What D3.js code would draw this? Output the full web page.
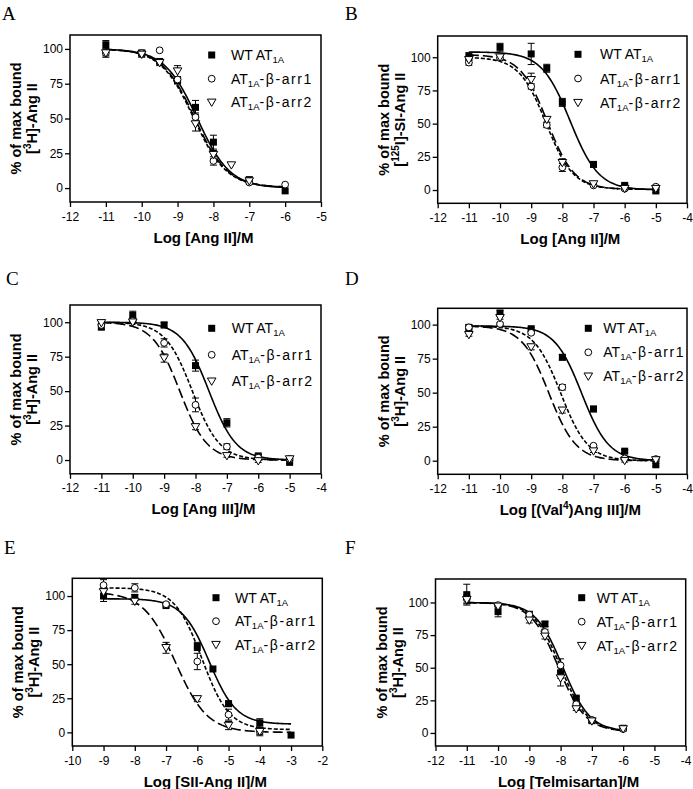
<!DOCTYPE html>
<html>
<head>
<meta charset="utf-8">
<script src="https://cdn.jsdelivr.net/npm/d3@7/dist/d3.min.js"></script>
<style>
  html, body { margin: 0; padding: 0; background: #fff; }
  svg { display: block; }
</style>
</head>
<body>
<svg id="chart" width="693" height="789"></svg>
<script>
// ---------------- DATA ----------------
const panelLetters = ["A", "B", "C", "D", "E", "F"];
const yTicks = [0, 25, 50, 75, 100];
const xTicksA = [-12, -11, -10, -9, -8, -7, -6, -5];
const xTicksB = [-12, -11, -10, -9, -8, -7, -6, -5, -4];
const xTicksC = [-12, -11, -10, -9, -8, -7, -6, -5, -4];
const xTicksD = [-12, -11, -10, -9, -8, -7, -6, -5, -4];
const xTicksE = [-10, -9, -8, -7, -6, -5, -4, -3, -2];
const xTicksF = [-12, -11, -10, -9, -8, -7, -6, -5, -4];

const legendPre = ["WT AT", "AT", "AT"];
const legendSub = ["1A", "1A", "1A"];
const legendPost = ["", "-\u03b2-arr1", "-\u03b2-arr2"];

const yTitleLine1 = "% of max bound";
const yTitleSup = ["3", "125", "3", "3", "3", "3"];
const yTitleRest = ["H]-Ang II", "I]-SI-Ang II", "H]-Ang II", "H]-Ang II", "H]-Ang II", "H]-Ang II"];
const xTitlePre = ["Log [Ang II]/M", "Log [Ang II]/M", "Log [Ang III]/M", "Log [(Val", "Log [SII-Ang II]/M", "Log [Telmisartan]/M"];
const xTitleSup = ["", "", "", "4", "", ""];
const xTitlePost = ["", "", "", ")Ang III]/M", "", ""];

// Panel A
const xA = [-11, -10, -9.5, -9, -8.5, -8, -7.5, -7, -6];
const wtA = [103, 97, 91, 77, 58, 33, null, 6, -2];
const arr1A = [97, 97, 99, 78, 51, 19.5, null, 4, 2.5];
const arr2A = [97, 96, 90, 84, 46, 24, 16.5, 5, null];
const wtErrA = [3, 2, 1, 2, 5, 5, 0, 2, 0];
const arr1ErrA = [2, 2, 0, 2, 3, 3, 0, 1, 0];
const arr2ErrA = [3, 2, 2, 4, 5, 3, 0, 1, 0];
const fitTopA = [100, 100, 100];
const fitBottomA = [0, 0.5, 0.5];
const fitIC50A = [-8.45, -8.55, -8.52];
const fitHillA = [0.95, 0.95, 0.95];

// Panel B
const xB = [-11, -10, -9, -8.5, -8, -7, -6, -5];
const wtB = [100.5, 107.5, 102.5, 91.7, 66, 19.3, 3.5, -0.7];
const arr1B = [96, 99.5, 78, 49, 17, 3.5, 1, 2.5];
const arr2B = [98, 100, 83, 53, 20.5, 4.5, 1, 1];
const wtErrB = [3, 3, 8, 3, 3, 2, 1, 1];
const arr1ErrB = [2, 2, 2, 2, 3, 1, 1, 1];
const arr2ErrB = [2, 2, 5, 2, 3, 1, 1, 1];
const fitTopB = [104, 100, 102];
const fitBottomB = [0, 0.5, 0.5];
const fitIC50B = [-7.75, -8.52, -8.48];
const fitHillB = [0.95, 1, 1];

// Panel C
const xC = [-11, -10, -9, -8, -7, -6, -5];
const wtC = [96.5, 105, 98, 68.5, 27, 3, -1.7];
const arr1C = [98, 101, 85, 40, 9.7, 1.7, 0.7];
const arr2C = [99.5, 100, 74, 24, 3, -0.7, 0.7];
const wtErrC = [2, 3, 2, 4, 3, 1, 1];
const arr1ErrC = [1, 2, 3, 5, 2, 1, 1];
const arr2ErrC = [1, 1, 3, 2, 1, 1, 1];
const fitTopC = [100, 100, 100];
const fitBottomC = [0, 0, 0];
const fitIC50C = [-7.57, -8.1, -8.5];
const fitHillC = [1, 1, 1];

// Panel D
const xD = [-11, -10, -9, -8, -7, -6, -5];
const wtD = [98, 108.5, 97, 76, 38, 7, -3];
const arr1D = [98, 100.5, 94, 54, 11, 1.7, 1.2];
const arr2D = [92.5, 105, 83.5, 37, 7, 0, 0.5];
const wtErrD = [2, 2, 1, 2, 2, 1, 1];
const arr1ErrD = [1, 1, 1, 2, 1, 1, 1];
const arr2ErrD = [1, 1, 2, 2, 1, 1, 1];
const fitTopD = [99, 99, 99];
const fitBottomD = [0, 0, 0];
const fitIC50D = [-7.38, -8.05, -8.43];
const fitHillD = [1, 1, 1];

// Panel E
const xE = [-9, -8, -7, -6, -5.5, -5, -4, -3];
const wtE = [100, 99, 93, 63, 46.5, 21, 7, -2];
const arr1E = [108, 106, 94, 52, null, 13, 0.5, null];
const arr2E = [103, 96, 62, 24.5, null, 5, 0.5, null];
const wtErrE = [4, 2, 1, 3, 0, 2, 3, 0];
const arr1ErrE = [4, 3, 1, 6, 0, 4, 3, 0];
const arr2ErrE = [3, 2, 4, 2, 0, 3, 2, 0];
const fitTopE = [98, 106, 103];
const fitBottomE = [6, 2, 0];
const fitIC50E = [-5.62, -5.85, -6.7];
const fitHillE = [1, 1, 0.85];

// Panel F
const xF = [-11, -10, -9, -8.5, -8, -7.5, -7, -6];
const wtF = [106, 93, 91, 83.5, 46, 26.7, 9.4, 3.6];
const arr1F = [102.6, 98, 90.6, 77.4, 51.8, 22, 10, 3];
const arr2F = [102, 97, 86.3, 74, 42, 18.3, 9, 3];
const wtErrF = [8, 4, 2, 2, 4, 1, 1, 1];
const arr1ErrF = [3, 1, 1, 2, 5, 1, 1, 1];
const arr2ErrF = [3, 1, 2, 2, 6, 1, 1, 1];
const fitTopF = [100, 100, 100];
const fitBottomF = [1, 1, 1];
const fitIC50F = [-7.93, -8.0, -8.07];
const fitHillF = [1, 1, 1];

// ---------------- LAYOUT ----------------
const layout = [
  { l: 70,    r: 321,   t: 35,    b: 202,   ymin: -10, ymax: 110,   leg: [211.7, 55,    23.7, 231],   let: [2, 20] },
  { l: 437.7, r: 687,   t: 36,    b: 203.3, ymin: -10, ymax: 116,   leg: [578,   54.3,  24.2, 600],   let: [345, 20] },
  { l: 70,    r: 321,   t: 305,   b: 473.8, ymin: -10, ymax: 112.5, leg: [211.7, 328.3, 26.5, 231.7], let: [6, 285] },
  { l: 437.7, r: 687,   t: 308.3, b: 474.3, ymin: -10, ymax: 112,   leg: [588.3, 328.3, 24,   603.3], let: [345, 285] },
  { l: 72.3,  r: 322.3, t: 578.3, b: 746,   ymin: -10, ymax: 113,   leg: [216,   597.7, 23.5, 235],   let: [4, 554] },
  { l: 435.5, r: 685.7, t: 579,   b: 746,   ymin: -10, ymax: 118,   leg: [581.7, 597.7, 24,   596.7], let: [345, 554] }
];

const panelData = [
  { xs: xA, ys: [wtA, arr1A, arr2A], es: [wtErrA, arr1ErrA, arr2ErrA], top: fitTopA, bot: fitBottomA, ic: fitIC50A, hill: fitHillA, ticks: xTicksA },
  { xs: xB, ys: [wtB, arr1B, arr2B], es: [wtErrB, arr1ErrB, arr2ErrB], top: fitTopB, bot: fitBottomB, ic: fitIC50B, hill: fitHillB, ticks: xTicksB },
  { xs: xC, ys: [wtC, arr1C, arr2C], es: [wtErrC, arr1ErrC, arr2ErrC], top: fitTopC, bot: fitBottomC, ic: fitIC50C, hill: fitHillC, ticks: xTicksC },
  { xs: xD, ys: [wtD, arr1D, arr2D], es: [wtErrD, arr1ErrD, arr2ErrD], top: fitTopD, bot: fitBottomD, ic: fitIC50D, hill: fitHillD, ticks: xTicksD },
  { xs: xE, ys: [wtE, arr1E, arr2E], es: [wtErrE, arr1ErrE, arr2ErrE], top: fitTopE, bot: fitBottomE, ic: fitIC50E, hill: fitHillE, ticks: xTicksE },
  { xs: xF, ys: [wtF, arr1F, arr2F], es: [wtErrF, arr1ErrF, arr2ErrF], top: fitTopF, bot: fitBottomF, ic: fitIC50F, hill: fitHillF, ticks: xTicksF }
];

const SANS = "'Liberation Sans', Arial, Helvetica, sans-serif";
const SERIF = "'Liberation Serif', 'Times New Roman', serif";
const dashes = [null, "4,2", "10,4"];

const svg = d3.select("#chart");

function drawMarker(g, kind, cx, cy) {
  if (kind === 0) {
    g.append("rect").attr("x", cx - 3.5).attr("y", cy - 3.5).attr("width", 7).attr("height", 7)
      .attr("fill", "#000");
  } else if (kind === 1) {
    g.append("circle").attr("cx", cx).attr("cy", cy).attr("r", 3.4)
      .attr("fill", "#fff").attr("stroke", "#000").attr("stroke-width", 1);
  } else {
    const p = d3.path();
    p.moveTo(cx - 4.3, cy - 3.3); p.lineTo(cx + 4.3, cy - 3.3); p.lineTo(cx, cy + 4); p.closePath();
    g.append("path").attr("d", p.toString())
      .attr("fill", "#fff").attr("stroke", "#000").attr("stroke-width", 1);
  }
}

panelData.forEach((P, i) => {
  const L = layout[i];
  const g = svg.append("g");
  const x = d3.scaleLinear().domain([P.ticks[0], P.ticks[P.ticks.length - 1]]).range([L.l, L.r]);
  const y = d3.scaleLinear().domain([L.ymin, L.ymax]).range([L.b, L.t]);

  // axes
  const ya = g.append("g").attr("transform", `translate(${L.l},0)`)
    .call(d3.axisLeft(y).tickValues(yTicks).tickSize(5).tickPadding(2).tickSizeOuter(0).tickFormat(d => String(d)));
  const xa = g.append("g").attr("transform", `translate(0,${L.b})`)
    .call(d3.axisBottom(x).tickValues(P.ticks).tickSize(5).tickPadding(5).tickSizeOuter(0).tickFormat(d => String(d)));
  [ya, xa].forEach(a => {
    a.select(".domain").remove();
    a.selectAll(".tick line").attr("stroke", "#000").attr("stroke-width", 1.3);
    a.selectAll(".tick text").attr("fill", "#000").style("font-family", SANS).style("font-size", "12px");
  });

  // frame
  g.append("rect").attr("x", L.l).attr("y", L.t).attr("width", L.r - L.l).attr("height", L.b - L.t)
    .attr("fill", "none").attr("stroke", "#000").attr("stroke-width", 1.5);

  // fitted curves (4-parameter logistic with parameters)
  const ext = d3.extent(P.xs);
  const n = 160;
  const samples = d3.range(n + 1).map(k => ext[0] + (ext[1] - ext[0]) * k / n);
  const line = d3.line().x(d => x(d[0])).y(d => y(d[1]));
  [0, 1, 2].forEach(s => {
    const pts = samples.map(v => [v, P.bot[s] + (P.top[s] - P.bot[s]) / (1 + Math.pow(10, (v - P.ic[s]) * P.hill[s]))]);
    const path = g.append("path").attr("d", line(pts)).attr("fill", "none")
      .attr("stroke", "#000").attr("stroke-width", 1.6);
    if (dashes[s]) path.attr("stroke-dasharray", dashes[s]);
  });

  // error bars + markers
  [0, 1, 2].forEach(s => {
    P.xs.forEach((xv, k) => {
      const v = P.ys[s][k];
      if (v === null || v === undefined) return;
      const e = P.es[s][k];
      if (e > 0) {
        const cx = x(xv), y1 = y(v + e), y2 = y(v - e);
        g.append("line").attr("x1", cx).attr("x2", cx).attr("y1", y1).attr("y2", y2).attr("stroke", "#000").attr("stroke-width", 1);
        g.append("line").attr("x1", cx - 3.5).attr("x2", cx + 3.5).attr("y1", y1).attr("y2", y1).attr("stroke", "#000").attr("stroke-width", 1);
        g.append("line").attr("x1", cx - 3.5).attr("x2", cx + 3.5).attr("y1", y2).attr("y2", y2).attr("stroke", "#000").attr("stroke-width", 1);
      }
    });
  });
  [0, 1, 2].forEach(s => {
    P.xs.forEach((xv, k) => {
      const v = P.ys[s][k];
      if (v === null || v === undefined) return;
      drawMarker(g, s, x(xv), y(v));
    });
  });

  // legend
  const [sx, sy, dy, tx] = L.leg;
  [0, 1, 2].forEach(s => {
    const cy = sy + s * dy;
    drawMarker(g, s, sx, cy);
    const t = g.append("text").attr("x", tx).attr("y", cy + 5)
      .style("font-family", SANS).style("font-size", "14px").attr("fill", "#000");
    t.append("tspan").text(legendPre[s]);
    t.append("tspan").attr("dy", 3).style("font-size", "9.5px").text(legendSub[s]);
    t.append("tspan").attr("dy", -3).style("letter-spacing", "1.6px").text(legendPost[s]);
  });

  // y title
  const cyMid = (L.t + L.b) / 2;
  g.append("text").attr("transform", `translate(${L.l - 49},${cyMid}) rotate(-90)`)
    .attr("text-anchor", "middle").style("font-family", SANS).style("font-weight", "bold")
    .style("font-size", "14.5px").attr("fill", "#000").text(yTitleLine1);
  const t2 = g.append("text").attr("transform", `translate(${L.l - 33},${cyMid}) rotate(-90)`)
    .attr("text-anchor", "middle").style("font-family", SANS).style("font-weight", "bold")
    .style("font-size", "14.5px").attr("fill", "#000");
  t2.append("tspan").text("[");
  t2.append("tspan").attr("dy", -6).style("font-size", "10px").text(yTitleSup[i]);
  t2.append("tspan").attr("dy", 6).text(yTitleRest[i]);

  // x title
  const t3 = g.append("text").attr("x", (L.l + L.r) / 2 + 8).attr("y", L.b + 40.5)
    .attr("text-anchor", "middle").style("font-family", SANS).style("font-weight", "bold")
    .style("font-size", "15px").attr("fill", "#000");
  t3.append("tspan").text(xTitlePre[i]);
  if (xTitleSup[i]) {
    t3.append("tspan").attr("dy", -6).style("font-size", "10px").text(xTitleSup[i]);
    t3.append("tspan").attr("dy", 6).text(xTitlePost[i]);
  }

  // panel letter
  g.append("text").attr("x", L.let[0]).attr("y", L.let[1])
    .style("font-family", SERIF).style("font-size", "19px").attr("fill", "#000").text(panelLetters[i]);
});
</script>
</body>
</html>
